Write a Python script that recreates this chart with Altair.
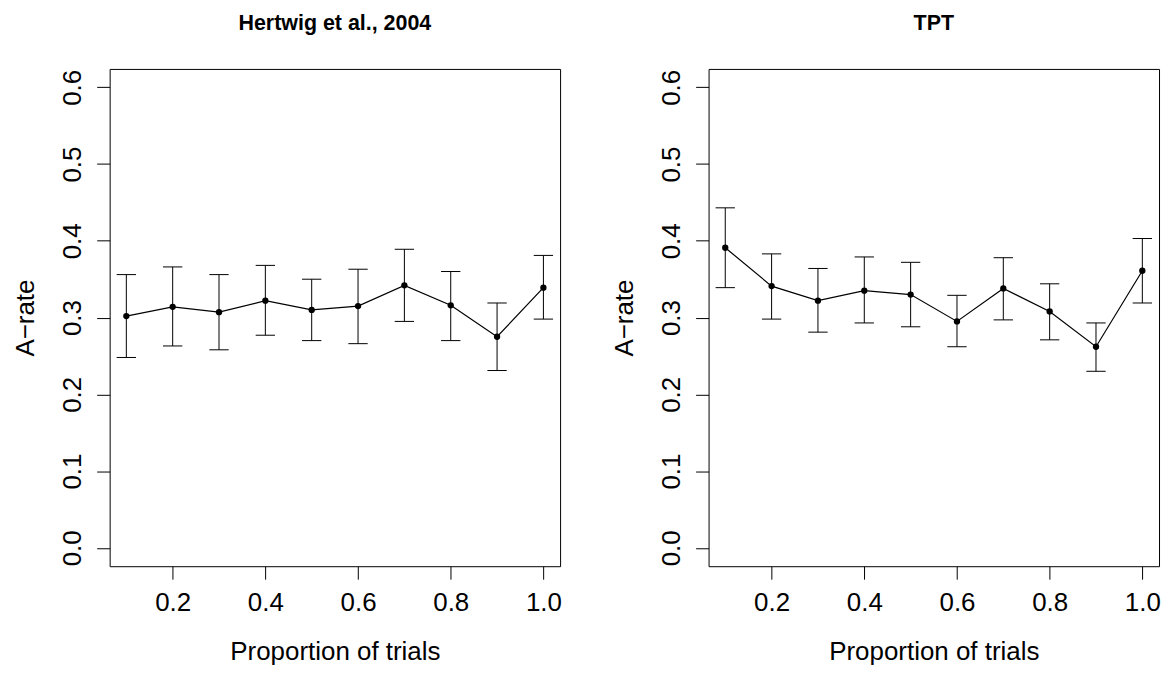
import altair as alt
import pandas as pd

# ---- data ----
props = [0.1, 0.2, 0.3, 0.4, 0.5, 0.6, 0.7, 0.8, 0.9, 1.0]

hert_mean = [0.302, 0.314, 0.307, 0.322, 0.310, 0.315, 0.342, 0.316, 0.275, 0.339]
hert_lo = [0.248, 0.263, 0.258, 0.277, 0.270, 0.266, 0.295, 0.270, 0.231, 0.298]
hert_hi = [0.356, 0.366, 0.356, 0.368, 0.350, 0.363, 0.389, 0.360, 0.319, 0.381]

tpt_mean = [0.391, 0.341, 0.322, 0.335, 0.330, 0.295, 0.338, 0.308, 0.262, 0.361]
tpt_lo = [0.339, 0.298, 0.281, 0.293, 0.288, 0.262, 0.297, 0.271, 0.230, 0.319]
tpt_hi = [0.443, 0.383, 0.364, 0.379, 0.372, 0.329, 0.378, 0.344, 0.293, 0.403]

panel_titles = ["Hertwig et al., 2004", "TPT"]
x_ticks = [0.2, 0.4, 0.6, 0.8, 1.0]
y_ticks = [0.0, 0.1, 0.2, 0.3, 0.4, 0.5, 0.6]
x_label = "Proportion of trials"
y_label = "A\u2212rate"

FONT = "Liberation Sans"
W, H = 452, 499


def panel(title, mean, lo, hi):
    df = pd.DataFrame({"p": props, "m": mean, "lo": lo, "hi": hi})
    base = alt.Chart(df)
    xs = alt.Scale(domain=[0.064, 1.036], nice=False, zero=False)
    ys = alt.Scale(domain=[-0.024, 0.624], nice=False, zero=False)
    xax = alt.Axis(
        values=x_ticks, format=".1f", title=x_label, domain=False, grid=False,
        tickSize=13, tickColor="black", tickWidth=1,
        labelFont=FONT, labelFontSize=26, labelColor="black",
        labelBaseline="alphabetic", labelPadding=31, labelFlush=False,
        labelOverlap=False,
        titleFont=FONT, titleFontSize=26, titleFontWeight="normal",
        titleColor="black", titleBaseline="alphabetic", titleY=93.5,
        titleX=W / 2, titleAlign="center",
    )
    yax = alt.Axis(
        values=y_ticks, format=".1f", title=y_label, domain=False, grid=False,
        tickSize=13, tickColor="black", tickWidth=1,
        labelFont=FONT, labelFontSize=26, labelColor="black",
        labelAngle=270, labelAlign="center", labelBaseline="alphabetic",
        labelPadding=16, labelFlush=False, labelOverlap=False,
        titleFont=FONT, titleFontSize=26, titleFontWeight="normal",
        titleColor="black", titleAngle=270, titleAlign="center",
        titleBaseline="alphabetic", titleX=-76.3, titleY=H / 2,
    )
    x = alt.X("p:Q", scale=xs, axis=xax)
    y = alt.Y("m:Q", scale=ys, axis=yax)

    bars = base.mark_rule(color="black", strokeWidth=1).encode(
        x=x, y=alt.Y("lo:Q", scale=ys, axis=yax), y2="hi:Q"
    )
    cap_hi = base.mark_rule(color="black", strokeWidth=1, xOffset=-9.7, x2Offset=9.7).encode(
        x=x, x2="p:Q", y=alt.Y("hi:Q", scale=ys, axis=yax)
    )
    cap_lo = base.mark_rule(color="black", strokeWidth=1, xOffset=-9.7, x2Offset=9.7).encode(
        x=x, x2="p:Q", y=alt.Y("lo:Q", scale=ys, axis=yax)
    )
    line = base.mark_line(color="black", strokeWidth=1.2).encode(x=x, y=y)
    pts = base.mark_circle(color="black", opacity=1, size=40).encode(x=x, y=y)

    return alt.layer(bars, cap_hi, cap_lo, line, pts).properties(
        width=W, height=H,
        title=alt.Title(
            title, font=FONT, fontSize=21.5, fontWeight="bold", color="black",
            anchor="middle", frame="group", baseline="alphabetic", offset=17.6,
        ),
    )


left = panel(panel_titles[0], hert_mean, hert_lo, hert_hi)
right = panel(panel_titles[1], tpt_mean, tpt_lo, tpt_hi)

chart = (
    alt.hconcat(left, right, spacing=149, bounds="flush")
    .properties(
        autosize=alt.AutoSizeParams(type="pad"),
        padding={"left": 4, "top": 3, "right": 4, "bottom": 4},
        background="white",
    )
    .configure_view(stroke="black", strokeWidth=1)
)

chart.save("out.html", embed_options={"renderer": "svg", "actions": False})
